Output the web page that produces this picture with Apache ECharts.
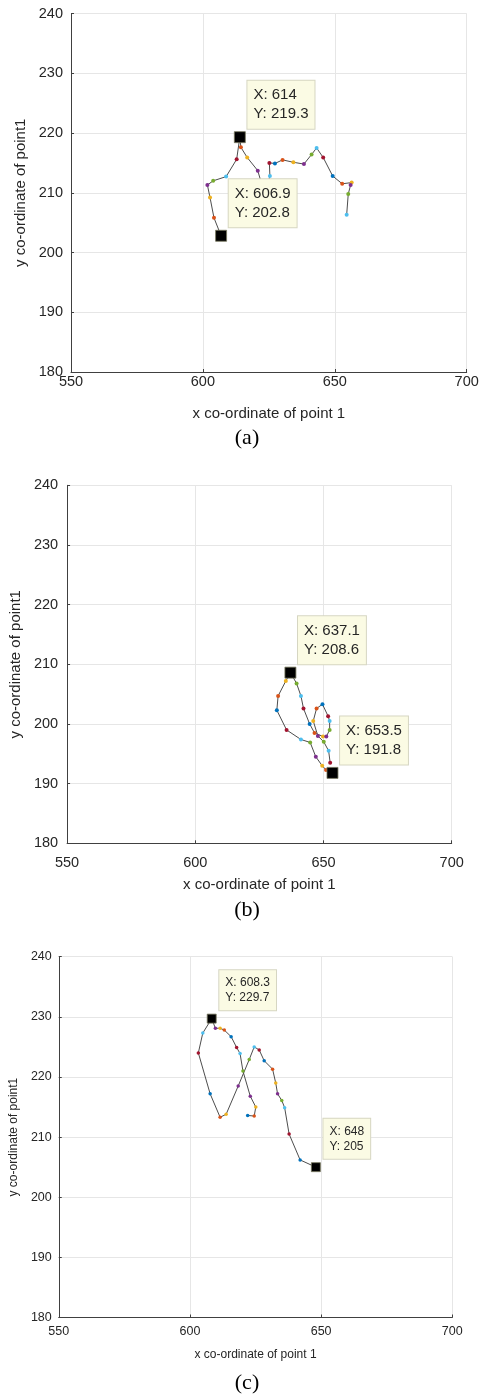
<!DOCTYPE html>
<html>
<head>
<meta charset="utf-8">
<script src="https://cdn.jsdelivr.net/npm/echarts@6/dist/echarts.min.js"></script>
<style>
html, body { margin: 0; padding: 0; background: #fff; }
#chart { width: 483px; height: 1394px; }
</style>
</head>
<body>
<div id="chart"></div>
<script>
// tick values shared by the three panels
var xTicks = [550, 600, 650, 700];
var yTicks = [180, 190, 200, 210, 220, 230, 240];

// tracked position of point 1
var pathA = [
  [606.9, 202.8], [604.2, 205.8], [602.7, 209.2], [601.7, 211.3], [603.9, 212.0],
  [608.8, 212.7], [612.8, 215.6], [614.0, 219.3], [614.4, 217.6], [616.8, 215.9],
  [620.8, 213.7], [623.5, 209.6], [625.4, 212.8], [625.2, 215.0], [627.3, 214.9],
  [630.2, 215.5], [634.3, 215.1], [638.3, 214.8], [641.2, 216.4], [643.1, 217.5],
  [645.6, 215.9], [649.2, 212.8], [652.8, 211.5], [656.4, 211.7], [656.0, 211.3],
  [655.1, 209.8], [654.5, 206.3]
];
var tipsA = [[614, 219.3], [606.9, 202.8]];

var pathB = [
  [653.5, 191.8], [651.0, 192.3], [649.5, 193.0], [647.0, 194.5], [644.8, 196.9],
  [641.2, 197.4], [635.6, 199.0], [631.8, 202.3], [632.3, 204.7], [635.3, 207.2],
  [637.1, 208.6], [639.5, 206.8], [641.2, 204.7], [642.2, 202.6], [644.6, 200.0],
  [646.5, 198.5], [649.8, 197.9], [651.1, 197.9], [652.4, 199.0], [652.4, 200.5],
  [651.8, 201.3], [649.6, 203.3], [647.3, 202.6], [646.0, 200.5], [647.8, 198.0],
  [650.1, 197.0], [652.0, 195.5], [652.6, 193.5]
];
var tipsB = [[637.1, 208.6], [653.5, 191.8]];

var pathC = [
  [622.0, 213.6], [624.5, 213.5], [625.1, 215.0], [623.0, 216.8], [620.2, 221.0],
  [619.1, 223.9], [617.8, 224.9], [615.7, 226.7], [613.1, 227.8], [611.5, 228.1],
  [609.7, 228.1], [608.3, 229.7], [604.9, 227.3], [603.2, 224.0], [607.7, 217.2],
  [611.5, 213.3], [613.8, 213.8], [618.4, 218.5], [622.6, 222.9], [624.5, 225.0],
  [626.4, 224.5], [628.3, 222.7], [631.5, 221.3], [632.7, 219.0], [633.4, 217.2],
  [635.0, 216.1], [636.1, 214.9], [637.8, 210.5], [642.0, 206.2], [648.0, 205.0]
];
var tipsC = [[608.3, 229.7], [648, 205]];

var xName = 'x co-ordinate of point 1';
var yName = 'y co-ordinate of point1';
var tags = ['(a)', '(b)', '(c)'];

// matlab default colour order for the markers
var palette = ['#0072BD', '#D95319', '#EDB120', '#7E2F8E', '#77AC30', '#4DBEEE', '#A2142F'];

var panels = [
  { path: pathA, tips: tipsA, left: 71, top: 13.5, width: 395.7, height: 358.5,
    fs: 15, tickFs: 14.5, mx: 2, my: 8, gapX: 34, gapY: 37, tagY: 438, sq: 11, dot: 4 },
  { path: pathB, tips: tipsB, left: 57.7, top: 485.3, width: 394, height: 358,
    fs: 15, tickFs: 14.5, mx: 12, my: 9, gapX: 34, gapY: 30, tagY: 910, sq: 11, dot: 4 },
  { path: pathC, tips: tipsC, left: 57, top: 956.7, width: 395.3, height: 360.8,
    fs: 12, tickFs: 12.5, mx: 8, my: 7, gapX: 31, gapY: 29, tagY: 1383, sq: 9, dot: 3.5 }
];

var font = 'Liberation Sans';
var grids = [], xAxes = [], yAxes = [], series = [], graphics = [];

panels.forEach(function (p, i) {
  grids.push({ left: p.left, top: p.top, width: p.width, height: p.height });
  var common = {
    type: 'value',
    axisLine: { show: true, lineStyle: { color: '#404040', width: 1 } },
    axisTick: { show: true, inside: true, length: 3, lineStyle: { color: '#404040' } },
    splitLine: { show: true, lineStyle: { color: '#e6e6e6', width: 1 } },
    nameLocation: 'middle',
    nameTextStyle: { color: '#262626', fontSize: p.fs, fontFamily: font }
  };
  xAxes.push(Object.assign({}, common, {
    gridIndex: i,
    min: xTicks[0], max: xTicks[xTicks.length - 1], interval: xTicks[1] - xTicks[0],
    name: xName, nameGap: p.gapX,
    axisLabel: { color: '#262626', fontSize: p.tickFs, fontFamily: font, margin: p.mx }
  }));
  yAxes.push(Object.assign({}, common, {
    gridIndex: i,
    min: yTicks[0], max: yTicks[yTicks.length - 1], interval: yTicks[1] - yTicks[0],
    name: yName, nameGap: p.gapY,
    axisLabel: { color: '#262626', fontSize: p.tickFs, fontFamily: font, margin: p.my }
  }));

  series.push({
    type: 'line', xAxisIndex: i, yAxisIndex: i, data: p.path,
    showSymbol: false, symbol: 'none', z: 2,
    lineStyle: { color: '#4d4d4d', width: 1 }
  });
  series.push({
    type: 'scatter', xAxisIndex: i, yAxisIndex: i, data: p.path,
    symbolSize: p.dot, z: 3,
    itemStyle: { opacity: 1, color: function (d) { return palette[d.dataIndex % palette.length]; } }
  });
  series.push({
    type: 'scatter', xAxisIndex: i, yAxisIndex: i, data: p.tips,
    symbol: 'rect', symbolSize: p.sq, z: 5,
    itemStyle: { opacity: 1, color: '#000', borderColor: '#77775e', borderWidth: 0.8 },
    label: {
      show: true,
      position: [p.sq / 2 + 8, p.sq / 2 - 8],
      align: 'left', verticalAlign: 'bottom',
      formatter: function (d) { return 'X: ' + d.value[0] + '\nY: ' + d.value[1]; },
      backgroundColor: '#fbfbe4', borderColor: '#d6d6c2', borderWidth: 1,
      padding: [5, 6], color: '#262626',
      fontSize: p.fs, lineHeight: Math.round(p.fs * 1.27), fontFamily: font
    }
  });

  graphics.push({
    type: 'text', x: 247, y: p.tagY,
    style: { text: tags[i], fontSize: 22, fontFamily: 'Liberation Serif', fill: '#000',
             align: 'center', verticalAlign: 'middle' }
  });
});

var chart = echarts.init(document.getElementById('chart'));
chart.setOption({
  animation: false,
  backgroundColor: '#fff',
  grid: grids,
  xAxis: xAxes,
  yAxis: yAxes,
  series: series,
  graphic: graphics
});
</script>
</body>
</html>
